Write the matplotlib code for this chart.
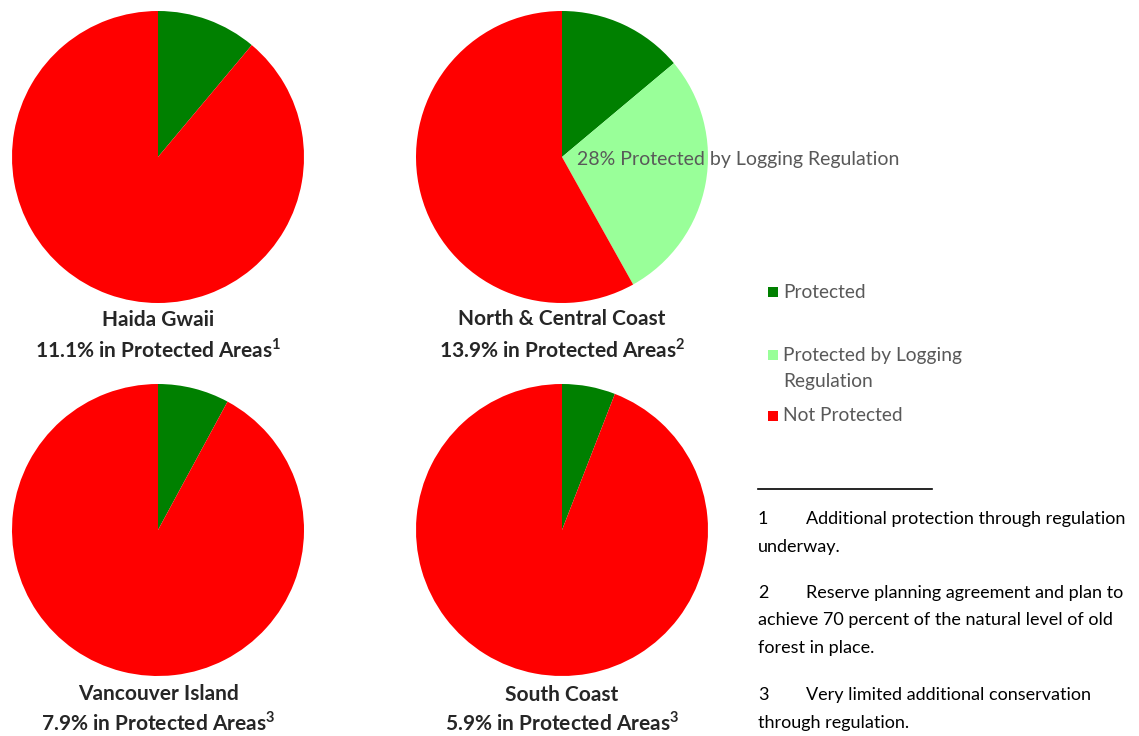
import matplotlib
matplotlib.use("Agg")
import matplotlib.pyplot as plt
from matplotlib.patches import Rectangle
from matplotlib.lines import Line2D

plt.rcParams['font.family'] = ['Lato', 'DejaVu Sans']
plt.rcParams['mathtext.fontset'] = 'custom'
plt.rcParams['mathtext.bf'] = 'Lato:bold'
plt.rcParams['mathtext.rm'] = 'Lato'

# ---- data ----
regions = ["Haida Gwaii", "North & Central Coast", "Vancouver Island", "South Coast"]
protected = [11.1, 13.9, 7.9, 5.9]
logging_reg = [0.0, 28.0, 0.0, 0.0]
footnote_marks = ["1", "2", "3", "3"]
categories = ["Protected", "Protected by Logging\nRegulation", "Not Protected"]
colors = ["#008000", "#99FF99", "#FF0000"]
footnote_nums = ["1", "2", "3"]
footnote_lines = [
    ["Additional protection through regulation", "underway."],
    ["Reserve planning agreement and plan to",
     "achieve 70 percent of the natural level of old", "forest in place."],
    ["Very limited additional conservation", "through regulation."],
]

W, H = 1139, 736
fig = plt.figure(figsize=(W / 100, H / 100), dpi=100)

centers = [(158, 157), (562, 157), (158, 530), (562, 530)]
R = 146
title_y = [(320, 350), (319, 350), (694, 723), (695, 723)]

for i, name in enumerate(regions):
    cx, cy = centers[i]
    ax = fig.add_axes([(cx - R) / W, (H - cy - R) / H, 2 * R / W, 2 * R / H])
    vals = [protected[i], logging_reg[i], 100 - protected[i] - logging_reg[i]]
    ax.pie(vals, colors=colors, startangle=90, counterclock=False, radius=1.0,
           wedgeprops=dict(linewidth=0))
    ax.set_xlim(-1, 1)
    ax.set_ylim(-1, 1)
    ax.set_aspect('equal')
    ax.axis('off')
    if logging_reg[i] > 0:
        fig.text((cx + 15) / W, 1 - (cy + 2) / H,
                 f"{logging_reg[i]:.0f}% Protected by Logging Regulation",
                 fontsize=14, color="#595959", ha='left', va='center')
    t1, t2 = title_y[i]
    fig.text(cx / W, 1 - t1 / H, name, ha='center', va='center',
             fontsize=15, fontweight='bold', color="#262626")
    fig.text(cx / W, 1 - t2 / H,
             f"{protected[i]}% in Protected Areas$^{{\\mathbf{{{footnote_marks[i]}}}}}$",
             ha='center', va='center', fontsize=15, fontweight='bold', color="#262626")

# legend
leg_y = [[292], [355, 381], [416]]
for lbl, col, ys in zip(categories, colors, leg_y):
    y0 = ys[0]
    fig.patches.append(Rectangle((768 / W, 1 - (y0 + 5) / H), 10 / W, 10 / H,
                                 transform=fig.transFigure, facecolor=col,
                                 edgecolor='none'))
    for part, y in zip(lbl.split("\n"), ys):
        fig.text(783 / W, 1 - y / H, part, ha='left', va='center',
                 fontsize=13.8, color="#595959")

# footnote separator
fig.lines.append(Line2D([758 / W, 932 / W], [1 - 489 / H, 1 - 489 / H],
                        transform=fig.transFigure, color='black', linewidth=1.2))
fn_y = [[519, 547], [593, 620, 648], [695, 723]]
for num, lines, ys in zip(footnote_nums, footnote_lines, fn_y):
    fig.text(758 / W, 1 - ys[0] / H, num, ha='left', va='center', fontsize=13, color='black')
    for j, (ln, y) in enumerate(zip(lines, ys)):
        x = 806 if j == 0 else 758
        fig.text(x / W, 1 - y / H, ln, ha='left', va='center', fontsize=13, color='black')

fig.savefig("out.png", dpi=100, facecolor='white')
